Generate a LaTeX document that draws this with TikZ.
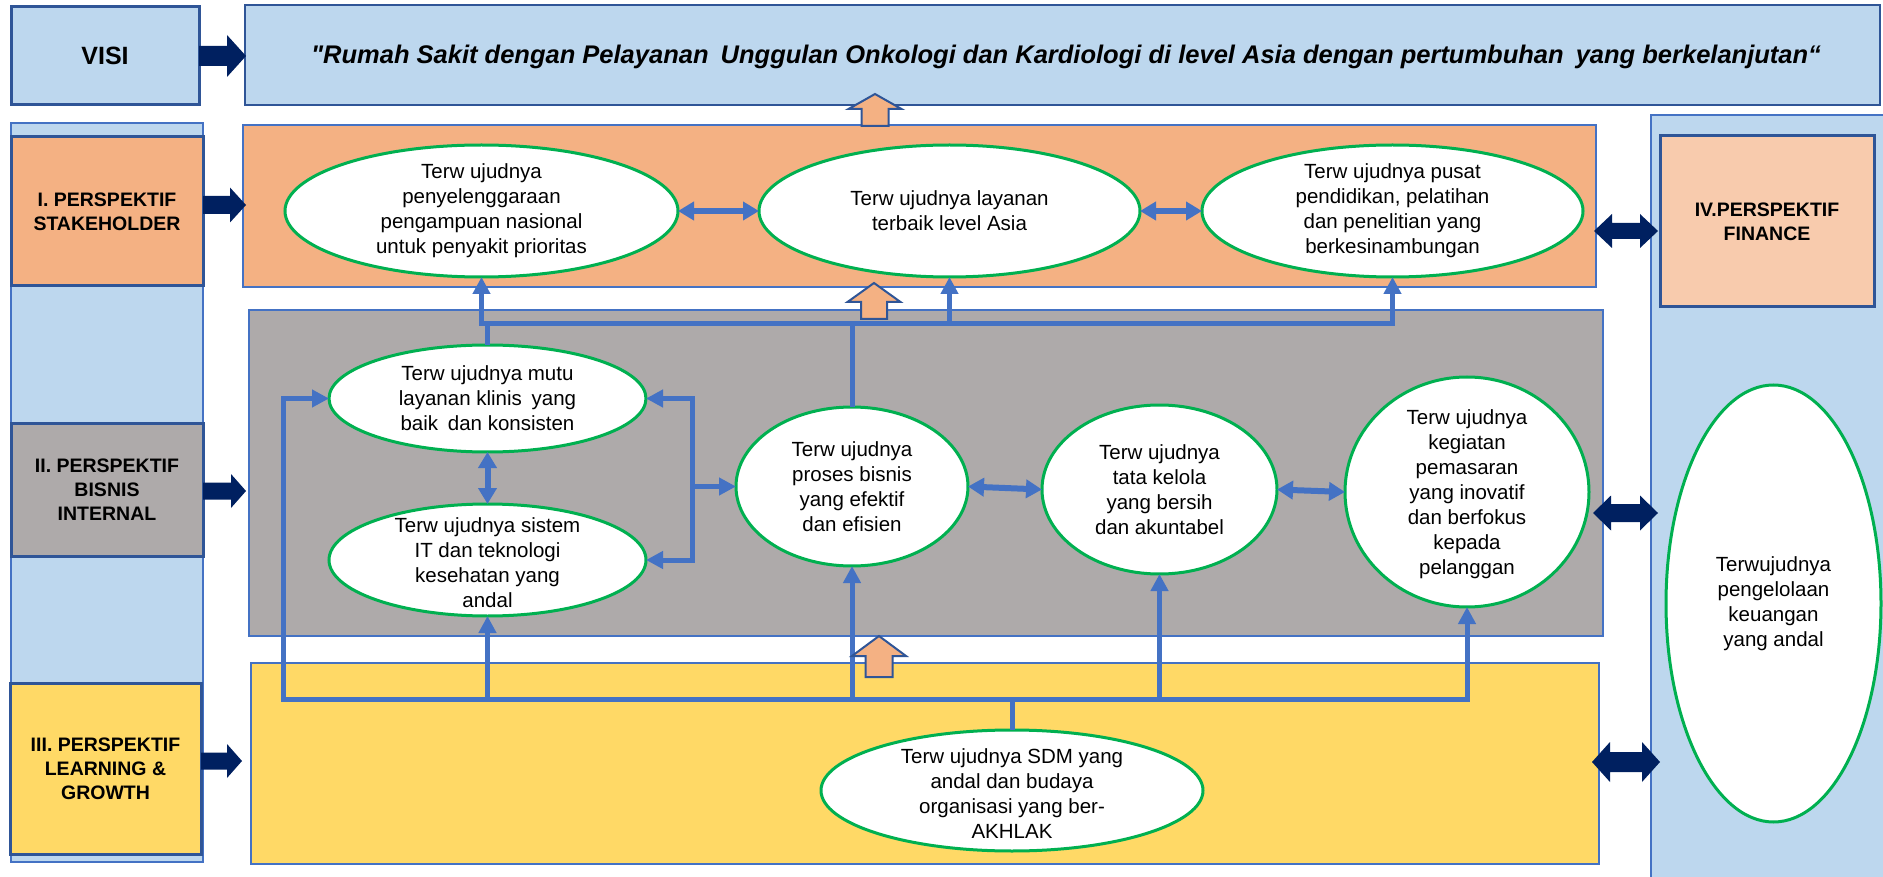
\documentclass[tikz,border=0pt]{standalone}
\usepackage{fontspec}
\setmainfont{Liberation Sans}
\usetikzlibrary{arrows.meta,calc,shapes.geometric}
\definecolor{lblue}{HTML}{BDD7EE}
\definecolor{bdark}{HTML}{2F5597}
\definecolor{bmid}{HTML}{4472C4}
\definecolor{orng}{HTML}{F4B183}
\definecolor{lorng}{HTML}{F8CBAD}
\definecolor{gry}{HTML}{AEAAAA}
\definecolor{ylw}{HTML}{FFD966}
\definecolor{navy}{HTML}{002060}
\definecolor{grn}{HTML}{00B050}
% #1 start, #2 total length, #3 head length, #4 shaft half height, #5 head half height
\newcommand\myRArrow[5]{\fill[navy] #1 ++(0,-#4) -- ++({#2-#3},0) -- ++(0,{-(#5-#4)}) -- ++(#3,#5) -- ++(-#3,#5) -- ++(0,{-(#5-#4)}) -- ++({-(#2-#3)},0) -- cycle;}
\newcommand\myDArrow[5]{\fill[navy] #1 -- ++(#3,-#5) -- ++(0,{#5-#4}) -- ++({#2-2*#3},0) -- ++(0,{-(#5-#4)}) -- ++(#3,#5) -- ++(-#3,#5) -- ++(0,{-(#5-#4)}) -- ++({-(#2-2*#3)},0) -- ++(0,{#5-#4}) -- cycle;}
\newcommand\myUArrow[5]{\filldraw[fill=orng,draw=bdark,line width=2pt,line join=miter] #1 -- ++(#5,#3) -- ++({-(#5-#4)},0) -- ++(0,{#2-#3}) -- ++({-2*#4},0) -- ++(0,{-(#2-#3)}) -- ++({-(#5-#4)},0) -- cycle;}
\newcommand\straightquote{\XeTeXglyph\XeTeXglyphindex "quotedbl"\relax}
\tikzset{
 strip/.style={draw=bmid, line width=1.5pt, fill=lblue, inner sep=0pt, outer sep=0pt},
 lbl/.style={draw=bdark, line width=3pt, inner sep=0pt, outer sep=0pt, align=center, font=\fontsize{19.5}{24}\selectfont\bfseries},
 sect/.style={draw=bmid, line width=1.5pt, inner sep=0pt, outer sep=0pt},
 ell/.style={ellipse, draw=grn, line width=3pt, fill=white, inner sep=0pt, outer sep=0pt},
 etext/.style={align=center, font=\fontsize{20.5}{25}\selectfont, inner sep=0pt},
 conn/.style={draw=bmid, line width=5pt, line join=miter},
 tipA/.style={-{Triangle[length=17pt,width=17pt]}},
 dbl/.style={draw=bmid, line width=6pt, {Triangle[length=16pt,width=18pt]}-{Triangle[length=16pt,width=18pt]}},
}
\begin{document}
\begin{tikzpicture}[x=1pt,y=-1pt]
\useasboundingbox[fill=white] (0,0) rectangle (1883,877);
% background strips
\node[strip, minimum width=192pt, minimum height=739pt] (lstrip) at (107,492.5) {};
\node[strip, minimum width=234pt, minimum height=765pt] (rstrip) at (1768,497.5) {};
% vision row
\node[lbl, fill=lblue, minimum width=188pt, minimum height=98pt, font=\fontsize{25}{30}\selectfont\bfseries] (visi) at (105,56) {VISI};
\node[draw=bdark, line width=2pt, fill=lblue, inner sep=0pt, outer sep=0pt, minimum width=1635pt, minimum height=100pt] (vision) at (1062.5,55) {};
\node[font=\fontsize{25.5}{30}\selectfont\bfseries\itshape, inner sep=0pt] (vtext) at (1066,57) {\straightquote Rumah Sakit dengan Pelayanan\hspace{5pt} Unggulan Onkologi dan Kardiologi di level Asia dengan pertumbuhan\hspace{5pt} yang berkelanjutan“};
% sections
\node[sect, fill=orng, minimum width=1353pt, minimum height=162pt] (secI) at (919.5,206) {};
\node[sect, fill=gry, minimum width=1354pt, minimum height=326pt] (secII) at (926,473) {};
\node[sect, fill=ylw, minimum width=1348pt, minimum height=201pt] (secIII) at (925,763.5) {};
% labels
\node[lbl, fill=orng, minimum width=192pt, minimum height=149pt] (lblI) at (107,211.5) {I. PERSPEKTIF\\STAKEHOLDER};
\node[lbl, fill=gry, minimum width=192pt, minimum height=133pt] (lblII) at (107,489.5) {II. PERSPEKTIF\\BISNIS\\INTERNAL};
\node[lbl, fill=ylw, minimum width=191pt, minimum height=171pt] (lblIII) at (105.5,768.5) {III. PERSPEKTIF\\LEARNING \&\\GROWTH};
\node[lbl, fill=lorng, minimum width=214pt, minimum height=171pt] (lblIV) at (1767,221.5) {IV.PERSPEKTIF\\FINANCE};
% navy arrows
\myRArrow{(visi.east)}{47}{19}{10}{21}
\myRArrow{($(lblI.east)+(0,-6.5)$)}{43}{16}{9}{17.5}
\myRArrow{($(lblII.east)+(0,1.5)$)}{43}{15}{8.5}{17}
\myRArrow{($(lblIII.east)+(0,-7.5)$)}{41}{15}{8.5}{17}
\myDArrow{($(secI.east)+(-2,25)$)}{64}{18}{8}{17}
\myDArrow{($(secII.east)+(-10,40)$)}{65}{18}{9}{17.5}
\myDArrow{($(secIII.east)+(-7,-1.5)$)}{68}{18}{10}{20}
% ellipses
\node[ell, minimum width=393pt, minimum height=132pt] (e1) at (481.5,211) {};
\node[ell, minimum width=381pt, minimum height=132pt] (e2) at (949.5,211) {};
\node[ell, minimum width=381pt, minimum height=132pt] (e3) at (1392.5,211) {};
\node[ell, minimum width=317pt, minimum height=107pt] (mutu) at (487.5,398.5) {};
\node[ell, minimum width=317pt, minimum height=112pt] (sistem) at (487.5,560) {};
\node[ell, minimum width=232pt, minimum height=159pt] (proses) at (852,486.5) {};
\node[ell, minimum width=235pt, minimum height=169pt] (tata) at (1159.5,489.5) {};
\node[ell, minimum width=244pt, minimum height=230pt] (pem) at (1467,492) {};
\node[ell, minimum width=382pt, minimum height=121pt] (sdm) at (1012,790.5) {};
\node[ell, minimum width=215pt, minimum height=437pt] (fin) at (1773.5,603.5) {};
% connectors
\coordinate (bT) at (0,324);
\coordinate (bB) at (0,699);
\draw[conn, line cap=rect] (e1.south |- bT) -- (e3.south |- bT);
\draw[conn, tipA] (e1.south |- bT) -- (e1.south);
\draw[conn, tipA] (e2.south |- bT) -- (e2.south);
\draw[conn, tipA] (e3.south |- bT) -- (e3.south);
\draw[conn] (mutu.north) -- (mutu.north |- bT);
\draw[conn] (proses.north) -- (proses.north |- bT);
\coordinate (lp) at ($(mutu.west |- bB)+(-46,0)$);
\draw[conn, line cap=rect] (lp) -- (pem.south |- bB);
\draw[conn, tipA] (lp) |- (mutu.west);
\draw[conn, tipA] (sistem.south |- bB) -- (sistem.south);
\draw[conn, tipA] (proses.south |- bB) -- (proses.south);
\draw[conn, tipA] (tata.south |- bB) -- (tata.south);
\draw[conn, tipA] (pem.south |- bB) -- (pem.south);
\draw[conn] (sdm.north) -- (sdm.north |- bB);
\coordinate (brk) at ($(proses.west)+(-44,0)$);
\draw[conn, tipA] (brk) |- (mutu.east);
\draw[conn, tipA] (brk) |- (sistem.east);
\draw[conn, tipA] (brk) -- (proses.west);
\draw[dbl] (e1.east) -- (e2.west);
\draw[dbl] (e2.east) -- (e3.west);
\draw[dbl] (mutu.south) -- (sistem.north);
\draw[dbl] (proses.east) -- (tata.west);
\draw[dbl] (tata.east) -- (pem.west);
% hollow up arrows
\myUArrow{(875,94)}{32}{15}{13.5}{26.5}
\myUArrow{(874,283)}{36}{19}{13}{26.5}
\myUArrow{(879,636)}{41}{20}{13.5}{27}
% texts
\node[etext] (t1) at (e1) {Terw ujudnya\\penyelenggaraan\\pengampuan nasional\\untuk penyakit prioritas};
\node[etext] (t2) at (e2) {Terw ujudnya layanan\\terbaik level Asia};
\node[etext] (t3) at (e3) {Terw ujudnya pusat\\pendidikan, pelatihan\\dan penelitian yang\\berkesinambungan};
\node[etext] (t4) at (mutu) {Terw ujudnya mutu\\layanan klinis\hspace{4pt} yang\\baik\hspace{4pt} dan konsisten};
\node[etext] (t5) at ($(sistem)+(0,3)$) {Terw ujudnya sistem\\IT dan teknologi\\kesehatan yang\\andal};
\node[etext] (t6) at (proses) {Terw ujudnya\\proses bisnis\\yang efektif\\dan efisien};
\node[etext] (t7) at (tata) {Terw ujudnya\\tata kelola\\yang bersih\\dan akuntabel};
\node[etext] (t8) at ($(pem)+(0,2)$) {Terw ujudnya\\kegiatan\\pemasaran\\yang inovatif\\dan berfokus\\kepada\\pelanggan};
\node[etext] (t9) at ($(sdm)+(0,3)$) {Terw ujudnya SDM yang\\andal dan budaya\\organisasi yang ber-\\AKHLAK};
\node[etext] (t10) at (fin) {Terwujudnya\\pengelolaan\\keuangan\\yang andal};
\end{tikzpicture}
\end{document}
